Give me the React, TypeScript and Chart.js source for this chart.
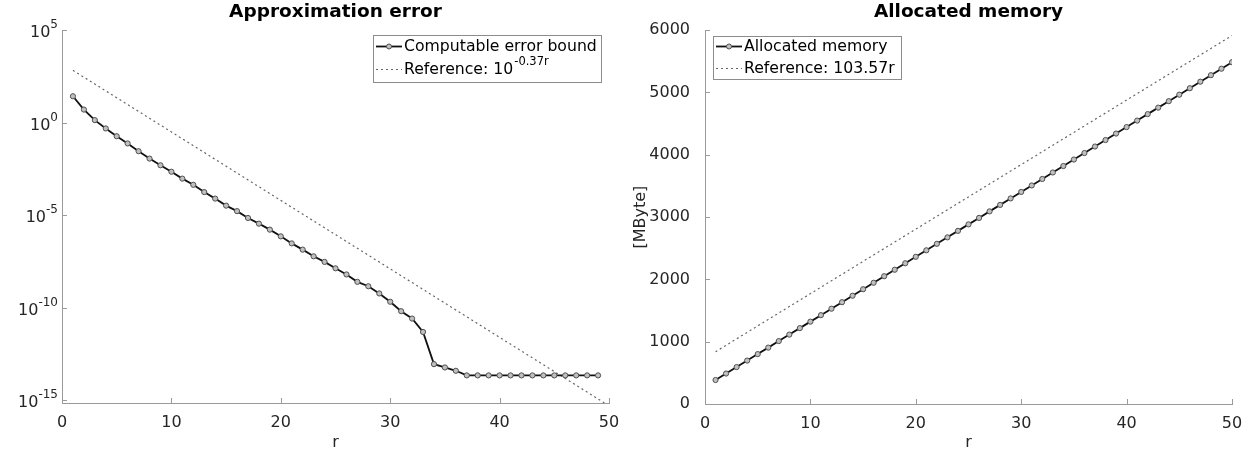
import React, { useEffect, useRef } from 'react';
import { Chart, registerables } from 'chart.js';

Chart.register(...registerables);
Chart.defaults.font.family = '"DejaVu Sans", sans-serif';

// ---------- data ----------
const errR = [
  1, 2, 3, 4, 5, 6, 7, 8, 9, 10, 11, 12, 13, 14, 15, 16, 17, 18, 19, 20, 21, 22, 23, 24, 25,
  26, 27, 28, 29, 30, 31, 32, 33, 34, 35, 36, 37, 38, 39, 40, 41, 42, 43, 44, 45, 46, 47, 48, 49,
];
const errBound = [
  26.9, 5.13, 1.38, 0.49, 0.186, 0.0759, 0.0288, 0.0115, 5.0e-3, 2.24e-3, 9.5e-4, 4.4e-4,
  1.78e-4, 7.9e-5, 3.3e-5, 1.66e-5, 7.1e-6, 3.5e-6, 1.66e-6, 7.2e-7, 3.0e-7, 1.38e-7, 6.0e-8,
  3.0e-8, 1.35e-8, 6.3e-9, 2.5e-9, 1.45e-9, 5.9e-10, 2.1e-10, 6.5e-11, 2.6e-11, 4.9e-12,
  8.9e-14, 5.9e-14, 3.9e-14, 2.2e-14, 2.2e-14, 2.2e-14, 2.2e-14, 2.2e-14, 2.2e-14, 2.2e-14,
  2.2e-14, 2.2e-14, 2.2e-14, 2.2e-14, 2.2e-14, 2.2e-14,
];
const errRefR = [1, 50];
const errRefVals = [676, 5e-16];
const errYTicks = [1e-15, 1e-10, 1e-5, 1, 1e5];
const errYTickExps = ['-15', '-10', '-5', '0', '5'];

const memR = [
  1, 2, 3, 4, 5, 6, 7, 8, 9, 10, 11, 12, 13, 14, 15, 16, 17, 18, 19, 20, 21, 22, 23, 24, 25,
  26, 27, 28, 29, 30, 31, 32, 33, 34, 35, 36, 37, 38, 39, 40, 41, 42, 43, 44, 45, 46, 47, 48, 49, 50,
];
const memVals = [
  385, 489, 593, 697, 801, 905, 1010, 1114, 1218, 1322, 1426, 1530, 1634, 1738, 1842, 1946,
  2051, 2155, 2259, 2363, 2467, 2571, 2675, 2779, 2883, 2987, 3092, 3196, 3300, 3404, 3508,
  3612, 3716, 3820, 3924, 4028, 4133, 4237, 4341, 4445, 4549, 4653, 4757, 4861, 4965, 5069,
  5174, 5278, 5382, 5486,
];
const memRefR = [1, 50];
const memRefVals = [839, 5914];

const xTicks = [0, 10, 20, 30, 40, 50];
const memYTicks = [0, 1000, 2000, 3000, 4000, 5000, 6000];

// ---------- styles ----------
const AXIS_COLOR = '#9a9a9a';
const TICK_TEXT = '#262626';
const LINE_COLOR = '#111111';
const MARKER_FILL = '#c0c0c0';
const MARKER_EDGE = '#505050';
const REF_COLOR = '#666666';
const FONT = '"DejaVu Sans", sans-serif';
const TICK_SIZE = 16;
const TITLE_SIZE = 18.5;
const LEGEND_SIZE = 15.7;

const toPts = (xs: number[], ys: number[]) => xs.map((x, i) => ({ x, y: ys[i] }));

const inwardTicks = {
  id: 'inwardTicks',
  afterDatasetsDraw(chart: any) {
    const ctx = chart.ctx;
    const { left, bottom } = chart.chartArea;
    ctx.save();
    ctx.strokeStyle = AXIS_COLOR;
    ctx.lineWidth = 1;
    const xs = chart.scales.x;
    xs.ticks.forEach((t: any) => {
      const px = Math.round(xs.getPixelForValue(t.value)) + 0.5;
      ctx.beginPath();
      ctx.moveTo(px, bottom);
      ctx.lineTo(px, bottom - 5);
      ctx.stroke();
    });
    const ys = chart.scales.y;
    ys.ticks.forEach((t: any) => {
      const py = Math.round(ys.getPixelForValue(t.value)) + 0.5;
      ctx.beginPath();
      ctx.moveTo(left, py);
      ctx.lineTo(left + 5, py);
      ctx.stroke();
    });
    ctx.restore();
  },
};

// draws "10^k" labels of the log axis with a real superscript
const powerLabels = {
  id: 'powerLabels',
  afterDraw(chart: any) {
    const ctx = chart.ctx;
    const ys = chart.scales.y;
    const right = chart.chartArea.left - 4;
    ctx.save();
    ctx.fillStyle = TICK_TEXT;
    ctx.textBaseline = 'middle';
    ctx.textAlign = 'left';
    errYTicks.forEach((v, i) => {
      const py = ys.getPixelForValue(v);
      ctx.font = `12px ${FONT}`;
      const ew = ctx.measureText(errYTickExps[i]).width;
      ctx.font = `${TICK_SIZE}px ${FONT}`;
      const bw = ctx.measureText('10').width;
      const x0 = right - ew - bw;
      ctx.fillText('10', x0, py + 3);
      ctx.font = `12px ${FONT}`;
      ctx.fillText(errYTickExps[i], x0 + bw, py - 5);
    });
    ctx.restore();
  },
};

type LegendRow = { text: string; sup?: string; dash?: number[]; marker?: boolean; width: number; color: string };
function legendPlugin(cfg: { x: number; y: number; w: number; h: number; rowY: number[]; rows: LegendRow[] }) {
  return {
    id: 'customLegend',
    afterDraw(chart: any) {
      const ctx = chart.ctx;
      ctx.save();
      ctx.fillStyle = '#ffffff';
      ctx.fillRect(cfg.x, cfg.y, cfg.w, cfg.h);
      ctx.strokeStyle = '#8c8c8c';
      ctx.lineWidth = 1;
      ctx.strokeRect(cfg.x + 0.5, cfg.y + 0.5, cfg.w, cfg.h);
      cfg.rows.forEach((row, i) => {
        const cy = cfg.y + cfg.rowY[i] + 0.5;
        ctx.beginPath();
        ctx.setLineDash(row.dash || []);
        ctx.strokeStyle = row.color;
        ctx.lineWidth = row.width;
        ctx.moveTo(cfg.x + 3, cy);
        ctx.lineTo(cfg.x + 29, cy);
        ctx.stroke();
        ctx.setLineDash([]);
        if (row.marker) {
          ctx.beginPath();
          ctx.arc(cfg.x + 16, cy, 2.5, 0, Math.PI * 2);
          ctx.fillStyle = MARKER_FILL;
          ctx.fill();
          ctx.strokeStyle = MARKER_EDGE;
          ctx.lineWidth = 1;
          ctx.stroke();
        }
        ctx.font = `${LEGEND_SIZE}px ${FONT}`;
        ctx.fillStyle = '#000';
        ctx.textBaseline = 'middle';
        ctx.textAlign = 'left';
        ctx.fillText(row.text, cfg.x + 31, cy);
        if (row.sup) {
          const w = ctx.measureText(row.text).width;
          ctx.font = `11.5px ${FONT}`;
          ctx.fillText(row.sup, cfg.x + 31 + w + 1, cy - 7);
        }
      });
      ctx.restore();
    },
  };
}

const xScale = (height: number) => ({
  type: 'linear',
  min: 0,
  max: 50,
  afterBuildTicks: (s: any) => { s.ticks = xTicks.map((v) => ({ value: v })); },
  afterFit: (s: any) => { s.height = height; },
  grid: { display: false },
  border: { display: true, color: AXIS_COLOR, width: 1 },
  ticks: { color: TICK_TEXT, font: { size: TICK_SIZE, family: FONT }, padding: 2, maxRotation: 0 },
  title: { display: true, text: 'r', color: TICK_TEXT, font: { size: TICK_SIZE, family: FONT }, padding: { top: 0, bottom: 0 } },
});

const titleOpts = (text: string) => ({
  display: true,
  text,
  fullSize: false,
  color: '#000',
  font: { size: TITLE_SIZE, weight: 'bold', family: FONT },
  padding: { top: 1, bottom: 7 },
});

function ErrorChart() {
  const ref = useRef<HTMLCanvasElement>(null);
  useEffect(() => {
    const chart = new Chart(ref.current!, {
      type: 'line',
      data: {
        datasets: [
          {
            label: 'Computable error bound',
            data: toPts(errR, errBound),
            borderColor: LINE_COLOR,
            borderWidth: 1.8,
            pointRadius: 2.6,
            pointBackgroundColor: MARKER_FILL,
            pointBorderColor: MARKER_EDGE,
            pointBorderWidth: 1,
            tension: 0,
          },
          {
            label: 'Reference',
            data: toPts(errRefR, errRefVals),
            borderColor: REF_COLOR,
            borderWidth: 1.2,
            borderDash: [2, 3],
            pointRadius: 0,
          },
        ],
      },
      options: {
        animation: false,
        responsive: false,
        layout: { padding: { left: 8, right: 16, top: 0, bottom: 0 } },
        plugins: {
          legend: { display: false },
          tooltip: { enabled: false },
          title: titleOpts('Approximation error'),
        },
        scales: {
          x: xScale(49),
          y: {
            type: 'logarithmic',
            min: Math.pow(10, -15.15),
            max: 1e5,
            afterBuildTicks: (s: any) => { s.ticks = errYTicks.map((v) => ({ value: v })); },
            afterFit: (s: any) => { s.width = 54; },
            grid: { display: false },
            border: { display: true, color: AXIS_COLOR, width: 1 },
            ticks: { display: false },
          },
        },
      } as any,
      plugins: [
        inwardTicks,
        powerLabels,
        legendPlugin({
          x: 373, y: 35, w: 228, h: 47, rowY: [11, 34],
          rows: [
            { text: 'Computable error bound', marker: true, width: 1.8, color: LINE_COLOR },
            { text: 'Reference: 10', sup: '-0.37r', dash: [2, 3], width: 1.2, color: REF_COLOR },
          ],
        }),
      ],
    });
    return () => chart.destroy();
  }, []);
  return <canvas ref={ref} width={625} height={452} style={{ position: 'absolute', left: 0, top: 0 }} />;
}

function MemoryChart() {
  const ref = useRef<HTMLCanvasElement>(null);
  useEffect(() => {
    const chart = new Chart(ref.current!, {
      type: 'line',
      data: {
        datasets: [
          {
            label: 'Allocated memory',
            data: toPts(memR, memVals),
            borderColor: LINE_COLOR,
            borderWidth: 1.8,
            pointRadius: 2.6,
            pointBackgroundColor: MARKER_FILL,
            pointBorderColor: MARKER_EDGE,
            pointBorderWidth: 1,
            tension: 0,
          },
          {
            label: 'Reference',
            data: toPts(memRefR, memRefVals),
            borderColor: REF_COLOR,
            borderWidth: 1.2,
            borderDash: [2, 3],
            pointRadius: 0,
          },
        ],
      },
      options: {
        animation: false,
        responsive: false,
        layout: { padding: { left: 0, right: 15, top: 0, bottom: 0 } },
        plugins: {
          legend: { display: false },
          tooltip: { enabled: false },
          title: titleOpts('Allocated memory'),
        },
        scales: {
          x: xScale(48),
          y: {
            type: 'linear',
            min: 0,
            max: 6000,
            afterBuildTicks: (s: any) => { s.ticks = memYTicks.map((v) => ({ value: v })); },
            afterFit: (s: any) => { s.width = 80; },
            grid: { display: false },
            border: { display: true, color: AXIS_COLOR, width: 1 },
            ticks: { color: TICK_TEXT, font: { size: TICK_SIZE, family: FONT }, padding: 7, callback: (v: any) => String(v) },
            title: { display: true, text: '[MByte]', color: TICK_TEXT, font: { size: TICK_SIZE, family: FONT }, padding: { top: 6, bottom: 0 } },
          },
        },
      } as any,
      plugins: [
        inwardTicks,
        legendPlugin({
          x: 88, y: 36, w: 188, h: 43, rowY: [10, 32],
          rows: [
            { text: 'Allocated memory', marker: true, width: 1.8, color: LINE_COLOR },
            { text: 'Reference: 103.57r', dash: [2, 3], width: 1.2, color: REF_COLOR },
          ],
        }),
      ],
    });
    return () => chart.destroy();
  }, []);
  return <canvas ref={ref} width={622} height={452} style={{ position: 'absolute', left: 625, top: 0 }} />;
}

export default function App() {
  return (
    <div style={{ position: 'absolute', left: 0, top: 0, width: 1247, height: 452, background: '#fff' }}>
      <ErrorChart />
      <MemoryChart />
    </div>
  );
}
